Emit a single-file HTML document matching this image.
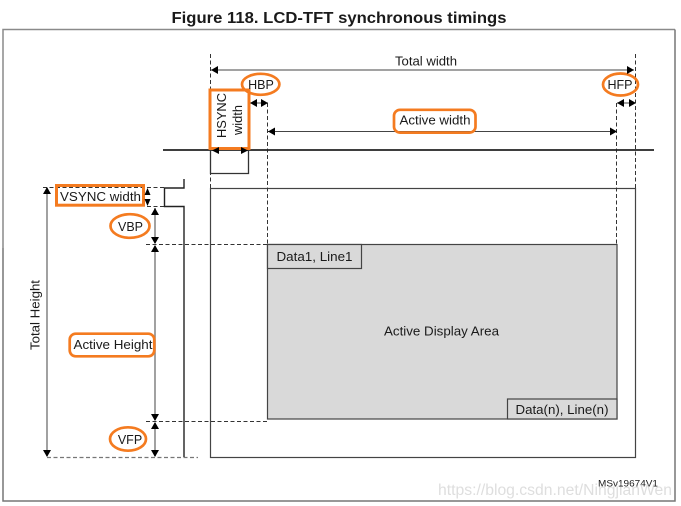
<!DOCTYPE html>
<html><head><meta charset="utf-8">
<style>html,body{margin:0;padding:0;background:#fff}svg{display:block}text{font-family:"Liberation Sans",sans-serif;fill:#1a1a1a}</style>
</head><body>
<svg width="681" height="506" viewBox="0 0 681 506" xmlns="http://www.w3.org/2000/svg">
<rect width="681" height="506" fill="#fff"/>
<text x="339" y="23" font-size="15.5" font-weight="bold" text-anchor="middle" textLength="335" lengthAdjust="spacingAndGlyphs" fill="#111">Figure 118. LCD-TFT synchronous timings</text>
<path d="M3 248V29.500H675" fill="none" stroke="#8a8a8a" stroke-width="1.500"/>
<path d="M3 248V501H675V29.500" fill="none" stroke="#777" stroke-width="1.500"/>
<rect x="210.500" y="188.500" width="425" height="269" fill="#fff" stroke="#444" stroke-width="1.200"/>
<rect x="267.500" y="244.500" width="349.500" height="174.500" fill="#d9d9d9" stroke="#444" stroke-width="1.200"/>
<rect x="267.500" y="244.500" width="94" height="24" fill="#d9d9d9" stroke="#444" stroke-width="1.200"/>
<rect x="507.500" y="399" width="109.500" height="20" fill="#d9d9d9" stroke="#444" stroke-width="1.200"/>
<g fill="none" stroke="#333" stroke-width="1" stroke-dasharray="4 2.500">
<path d="M210.500 54V188M635.500 54V188"/>
<path d="M267.500 103V244M616.500 103V244"/>
<path d="M43 187.500H164M147 206.500H164M146 244.500H267M146 421.500H268"/>
<path d="M47 457.500H198" stroke="#777" stroke-width="1.300"/>
</g>
<path d="M211 70H634M268 131.500H617M250 103H268M617 103H636" stroke="#444" stroke-width="1"/>
<path d="M47 188V456M155 208V243M155 246V420M155 423V456" stroke="#8a8a8a" stroke-width="1.600"/>
<path d="M163 150H654" stroke="#222" stroke-width="1.800"/>
<path d="M210.500 150V173.500H248.500V150" fill="none" stroke="#333" stroke-width="1.300"/>
<path d="M184 179V188H164.500V206.500H184V457" fill="none" stroke="#222" stroke-width="1.400"/>
<g fill="none" stroke="#f47b20" stroke-width="2.700">
<ellipse cx="260.700" cy="84.300" rx="18.700" ry="10.500"/>
<ellipse cx="620.500" cy="84.500" rx="17.500" ry="11"/>
<rect x="210" y="90" width="39" height="58.500" stroke-width="3"/>
<rect x="394" y="109.800" width="81.500" height="22.800" rx="6"/>
<rect x="56.500" y="185.500" width="87" height="19.700" stroke-width="3"/>
<ellipse cx="130" cy="226" rx="19.500" ry="11.800"/>
<rect x="69.700" y="333.700" width="84.600" height="22.600" rx="6"/>
<ellipse cx="128" cy="439" rx="18" ry="11.700"/>
</g>
<g fill="#000">
<path d="M211 70l7-4v8zM634 70l-7-4v8z"/>
<path d="M268 131.500l7-4v8zM617 131.500l-7-4v8z"/>
<path d="M250 103l7-4v8zM268 103l-7-4v8zM617 103l7-4v8zM636 103l-7-4v8z"/>
<path d="M212 150.500l7-3.500v7zM248 150.500l-7-3.500v7z"/>
<path d="M47 187l-4 7h8zM47 457l-4-7h8z"/>
<path d="M147.500 188l-3 7h6zM147.500 206l-3-7h6z"/>
<path d="M155 208l-4 7h8zM155 244l-4-7h8zM155 245l-4 7h8zM155 421l-4-7h8zM155 422l-4 7h8zM155 457l-4-7h8z"/>
</g>
<g font-size="12.500">
<text x="426" y="65.500" text-anchor="middle" textLength="62" lengthAdjust="spacingAndGlyphs">Total width</text>
<text x="261" y="89" text-anchor="middle">HBP</text>
<text x="620" y="89" text-anchor="middle">HFP</text>
<text x="435" y="124.500" text-anchor="middle" textLength="71" lengthAdjust="spacingAndGlyphs">Active width</text>
<text transform="translate(226,115.500) rotate(-90)" text-anchor="middle" textLength="45" lengthAdjust="spacingAndGlyphs">HSYNC</text>
<text transform="translate(242,120) rotate(-90)" text-anchor="middle" textLength="30" lengthAdjust="spacingAndGlyphs">width</text>
<text x="100.500" y="201" text-anchor="middle" textLength="81" lengthAdjust="spacingAndGlyphs">VSYNC width</text>
<text x="130.500" y="231" text-anchor="middle">VBP</text>
<text x="113" y="349" text-anchor="middle" textLength="79" lengthAdjust="spacingAndGlyphs">Active Height</text>
<text x="130" y="444" text-anchor="middle">VFP</text>
<text transform="translate(39.500,315) rotate(-90)" text-anchor="middle" textLength="70" lengthAdjust="spacingAndGlyphs">Total Height</text>
<text x="314.500" y="261" text-anchor="middle" textLength="76" lengthAdjust="spacingAndGlyphs">Data1, Line1</text>
<text x="441.500" y="335.500" text-anchor="middle" textLength="115" lengthAdjust="spacingAndGlyphs">Active Display Area</text>
<text x="562" y="414" text-anchor="middle" textLength="93" lengthAdjust="spacingAndGlyphs">Data(n), Line(n)</text>
</g>
<text x="628" y="486.500" font-size="9" text-anchor="middle" textLength="60" lengthAdjust="spacingAndGlyphs">MSv19674V1</text>
<text x="438" y="495" font-size="15.500" textLength="234" lengthAdjust="spacingAndGlyphs" style="fill:#c8c8c8;fill-opacity:.6">https://blog.csdn.net/NingjianWen</text>
</svg>
</body></html>
